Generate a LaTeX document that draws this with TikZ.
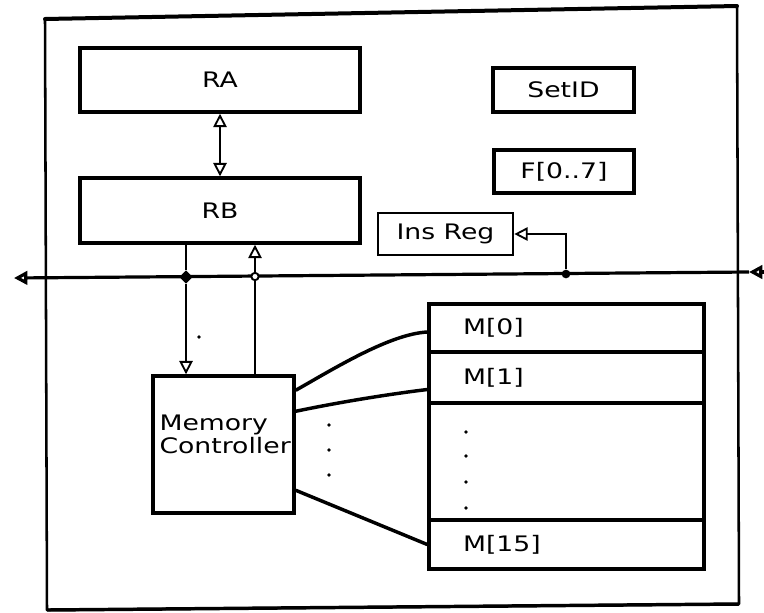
\documentclass[tikz,border=0pt]{standalone}
\usepackage{fontspec}
\usepackage{graphicx}
\setmainfont{DejaVu Sans}
\newcommand\wide[1]{\scalebox{1.25}[1]{#1}}
\usetikzlibrary{arrows.meta,calc,shapes.geometric}
\begin{document}
\begin{tikzpicture}[x=0.75pt,y=-0.75pt,
  >={Triangle[open,length=10pt,width=10pt]},
  lbl/.style={font=\fontsize{16}{17}\selectfont},
  box/.style={draw, line width=2.6pt, inner sep=0pt, lbl},
  wh/.style 2 args={minimum width=#1*0.75pt, minimum height=#2*0.75pt},
  memb/.style={box, align=left, text width=155.25pt, inner xsep=25.5pt, inner ysep=0pt},
  conn/.style={line width=1.4pt},
  wire/.style={line width=2.6pt},
  bus/.style={line width=2.4pt},
  diam/.style={diamond, fill=black, inner sep=0pt, minimum size=10pt},
  ocirc/.style={circle, draw, fill=white, line width=1.4pt, inner sep=0pt, minimum size=5.5pt},
  fdot/.style={circle, fill=black, inner sep=0pt, minimum size=6.5pt}
]
\useasboundingbox (0,0) rectangle (764,612);

% outer frame
\draw[line width=3pt, line cap=round] (45,19) -- (737,6);
\draw[line width=1.9pt, line join=round] (737,6) -- (739,604) -- (47,610) -- (45,19);
\draw[line width=2.6pt] (739,604) -- (47,610);

% registers
\node[box, wh={280}{64}] (RA) at (220,80) {\wide{RA}};
\node[box, wh={280}{65}] (RB) at (220,210.5) {\wide{RB}};
\node[box, wh={141}{44}] (SetID) at (563.5,90) {\wide{SetID}};
\node[box, wh={140}{43}] (F) at (564,171.5) {\wide{F[0..7]}};
\node[box, wh={135}{42}, line width=2pt] (Ins) at (445.5,234) {\wide{Ins Reg}};

% memory controller
\node[box, wh={141}{137}] (MC) at (223.5,444.5) {};
\node[lbl, anchor=west, align=left, inner sep=0pt] (MCtext) at ($(MC.west)+(8,-10)$) {\wide{Memory}\\\wide{Controller}};

% memory blocks
\node[memb, wh={275}{48}] (M0) at (566.5,328) {\wide{M[0]}};
\node[memb, wh={275}{51}] (M1) at (566.5,377.5) {\wide{M[1]}};
\node[box, wh={275}{117}] (Md) at (566.5,461.5) {};
\node[memb, wh={275}{49}] (M15) at (566.5,544.5) {\wide{M[15]}};

% bus
\coordinate (busL) at (14,278);
\coordinate (busR) at (764,272);
\coordinate (busRtip) at (749,272);
\draw[bus, ->] (busR) -- (busRtip);
\draw[bus, ->] (busRtip) -- (busL);
\node[diam] (J1) at (186,277) {};
\node[ocirc] (J2) at (255,276.5) {};
\node[fdot] (J3) at (566,274) {};

% connectors
\draw[conn, <->] (RA) -- (RB);
\draw[conn] (RB.south -| J1) -- (J1);
\draw[conn, ->] (J1) -- (MC.north -| J1);
\draw[conn] (MC.north -| J2) -- (J2);
\draw[conn, ->] (J2) -- (RB.south -| J2);
\draw[conn, ->] (J3) |- (Ins.east);

% controller to memory
\draw[wire] ($(MC.north east)+(0,16)$) .. controls (335,368) and (390,334) .. ($(M0.west)+(0,4)$);
\draw[wire] ($(MC.north east)+(0,37)$) .. controls (340,402) and (390,394) .. ($(M1.west)+(0,12)$);
\draw[wire] ($(MC.north east)+(0,116)$) -- (M15.west);

% dots
\foreach \yy in {425,450,475} \fill (329,\yy) circle[radius=1.4pt];
\foreach \yy in {432,456,482,508} \fill (466,\yy) circle[radius=1.4pt];
\fill (199,337) circle[radius=1.4pt];
\end{tikzpicture}
\end{document}
